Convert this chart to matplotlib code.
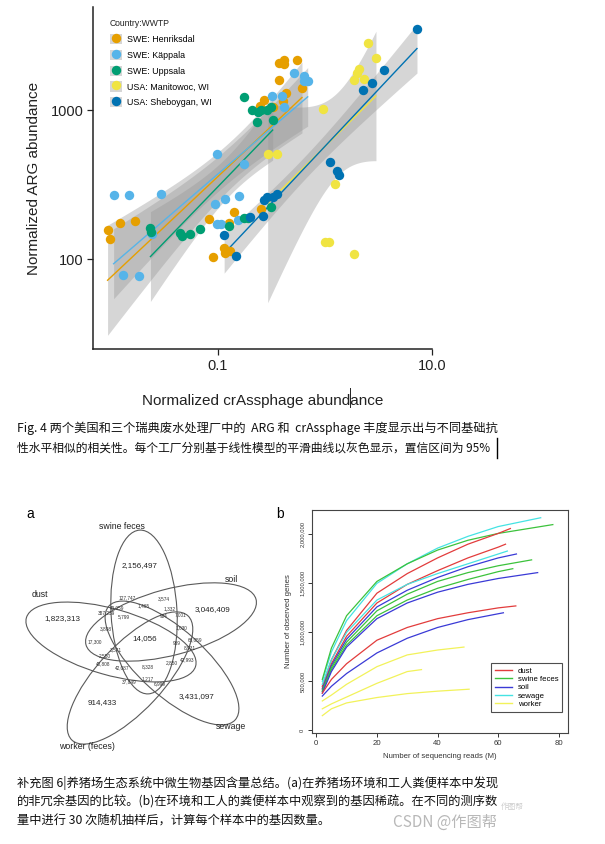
import numpy as np
import matplotlib
matplotlib.use('Agg')
import matplotlib.pyplot as plt
from matplotlib.patches import Ellipse, Rectangle
from matplotlib.lines import Line2D

W, H = 605, 844
LATIN = ['Liberation Sans', 'DejaVu Sans']
CJK = ['Noto Sans CJK SC', 'DejaVu Sans']

def fx(px):
    return px / W

def fy(py):
    return 1 - py / H

# ---------------- Fig. 4 : crAssphage vs ARG abundance ----------------
wwtp_names = ['SWE: Henriksdal', 'SWE: Käppala', 'SWE: Uppsala',
              'USA: Manitowoc, WI', 'USA: Sheboygan, WI']
wwtp_colors = ['#E69F00', '#56B4E9', '#009E73', '#F0E442', '#0072B2']

henriksdal_x = [0.0094, 0.0098, 0.0124, 0.0171, 0.0824, 0.0898, 0.115, 0.118, 0.131,
                0.128, 0.141, 0.254, 0.247, 0.268, 0.328, 0.373, 0.413, 0.419, 0.550,
                0.373, 0.612, 0.438, 0.407]
henriksdal_y = [157, 136, 174, 181, 186, 104, 119, 110, 114, 176, 207, 217, 1063, 1167,
                1042, 2084, 2162, 2032, 2183, 1588, 1418, 1294, 1155]
kappala_x = [0.0107, 0.0148, 0.0298, 0.0130, 0.0185, 0.0244, 0.0993, 0.175, 0.0951,
             0.118, 0.158, 0.0986, 0.107, 0.154, 0.321, 0.398, 0.413, 0.512, 0.634,
             0.644, 0.692]
kappala_y = [270, 270, 272, 78, 77, 147, 508, 434, 235, 254, 266, 171, 171, 183, 1247,
             1247, 1042, 1778, 1692, 1570, 1563]
uppsala_x = [0.0236, 0.0239, 0.0449, 0.0465, 0.0556, 0.0679, 0.128, 0.175, 0.191, 0.175,
             0.209, 0.236, 0.254, 0.233, 0.288, 0.315, 0.326, 0.315]
uppsala_y = [163, 153, 149, 143, 147, 159, 168, 188, 188, 1228, 1000, 965, 1000, 835,
             1000, 1052, 858, 225]
manitowoc_x = [0.962, 0.293, 0.358, 1.25, 1.01, 1.09, 1.86, 2.53, 3.00, 1.86, 2.10, 2.00, 2.34]
manitowoc_y = [1010, 507, 510, 318, 130, 131, 109, 2823, 2240, 1588, 1901, 1762, 1630]
sheboygan_x = [7.24, 3.54, 2.75, 2.27, 1.11, 1.30, 1.37, 0.358, 0.328, 0.288, 0.272,
               0.263, 0.199, 0.115, 0.148]
sheboygan_y = [3508, 1872, 1509, 1375, 447, 393, 367, 274, 260, 260, 250, 195, 191, 146, 105]

wwtp_x = [henriksdal_x, kappala_x, uppsala_x, manitowoc_x, sheboygan_x]
wwtp_y = [henriksdal_y, kappala_y, uppsala_y, manitowoc_y, sheboygan_y]

# ---------------- Suppl. Fig 6a : Venn counts ----------------
venn_sets = ['swine feces', 'soil', 'sewage', 'worker (feces)', 'dust']
venn_unique = [2156497, 3046409, 3431097, 914433, 1823313]
venn_core = 14056
venn_small = [127747, 3574, 1465, 40059, 387239, 1332, 5799, 904, 7001, 3898, 1030,
              17300, 969, 66059, 3571, 8931, 2550, 40808, 42087, 8328, 2850, 42993,
              1217, 37849, 6999]

# ---------------- Suppl. Fig 6b : rarefaction curves ----------------
rare_groups = ['dust', 'swine feces', 'soil', 'sewage', 'worker']
rare_colors = ['#e23c3c', '#3cc23c', '#3a3ad6', '#45e3e3', '#f2f25a']
curve_group = ['sewage', 'swine feces', 'dust', 'dust', 'sewage', 'soil', 'swine feces',
               'swine feces', 'soil', 'dust', 'soil', 'worker', 'worker', 'worker']
curve_x = [
    [2, 5, 10, 20, 30, 40, 50, 60, 74],
    [2, 5, 10, 20, 30, 40, 50, 60, 70, 78],
    [2, 5, 10, 20, 30, 40, 50, 60, 64],
    [2, 5, 10, 20, 30, 40, 50, 60, 62.4],
    [2, 5, 10, 20, 30, 40, 50, 60, 63],
    [2, 5, 10, 20, 30, 40, 50, 60, 66],
    [2, 5, 10, 20, 30, 40, 50, 60, 71],
    [2, 5, 10, 20, 30, 40, 50, 60, 64.8],
    [2, 5, 10, 20, 30, 40, 50, 60, 73],
    [2, 5, 10, 20, 30, 40, 50, 60, 65.8],
    [2, 5, 10, 20, 30, 40, 50, 60, 61.7],
    [2, 5, 10, 20, 30, 40, 48.7],
    [2, 5, 10, 20, 30, 34.7],
    [2, 5, 10, 20, 30, 40, 50.4],
]
curve_y = [  # millions of genes
    [0.50, 0.80, 1.12, 1.50, 1.70, 1.86, 1.98, 2.08, 2.17],
    [0.52, 0.84, 1.17, 1.52, 1.70, 1.84, 1.94, 2.01, 2.06, 2.10],
    [0.45, 0.72, 1.02, 1.40, 1.60, 1.76, 1.90, 2.01, 2.06],
    [0.43, 0.68, 0.96, 1.30, 1.49, 1.63, 1.76, 1.87, 1.90],
    [0.47, 0.72, 1.00, 1.33, 1.49, 1.60, 1.70, 1.80, 1.83],
    [0.42, 0.66, 0.93, 1.26, 1.43, 1.56, 1.67, 1.76, 1.80],
    [0.40, 0.64, 0.90, 1.22, 1.39, 1.52, 1.61, 1.68, 1.74],
    [0.40, 0.62, 0.87, 1.17, 1.33, 1.45, 1.54, 1.62, 1.65],
    [0.38, 0.60, 0.85, 1.14, 1.30, 1.41, 1.49, 1.55, 1.61],
    [0.38, 0.52, 0.68, 0.92, 1.05, 1.14, 1.20, 1.25, 1.27],
    [0.35, 0.45, 0.58, 0.79, 0.94, 1.05, 1.13, 1.19, 1.20],
    [0.30, 0.36, 0.47, 0.65, 0.77, 0.82, 0.85],
    [0.22, 0.27, 0.34, 0.48, 0.60, 0.62],
    [0.15, 0.22, 0.28, 0.335, 0.375, 0.40, 0.42],
]

caption1 = ['Fig. 4 两个美国和三个瑞典废水处理厂中的  ARG 和  crAssphage 丰度显示出与不同基础抗',
            '性水平相似的相关性。每个工厂分别基于线性模型的平滑曲线以灰色显示，置信区间为 95%']
caption2 = ['补充图 6|养猪场生态系统中微生物基因含量总结。(a)在养猪场环境和工人粪便样本中发现',
            '的非冗余基因的比较。(b)在环境和工人的粪便样本中观察到的基因稀疏。在不同的测序数',
            '量中进行 30 次随机抽样后，计算每个样本中的基因数量。']

plt.rcParams['font.family'] = LATIN
fig = plt.figure(figsize=(W / 100, H / 100), dpi=100)
fig.patch.set_facecolor('white')

# ===== top scatter with linear fits =====
ax = fig.add_axes([fx(93), fy(349), fx(432) - fx(93), fy(7) - fy(349)])
ax.set_xscale('log')
ax.set_yscale('log')
t95 = 2.1  # approx t quantile for n~15-23
handles = []
for name, col, xs, ys in zip(wwtp_names, wwtp_colors, wwtp_x, wwtp_y):
    lx = np.log10(xs)
    ly = np.log10(ys)
    b, a = np.polyfit(lx, ly, 1)
    n = len(lx)
    resid = ly - (a + b * lx)
    s = np.sqrt(np.sum(resid ** 2) / (n - 2))
    sxx = np.sum((lx - lx.mean()) ** 2)
    gx = np.linspace(lx.min(), lx.max(), 100)
    fit = a + b * gx
    se = s * np.sqrt(1 / n + (gx - lx.mean()) ** 2 / sxx)
    ax.fill_between(10 ** gx, 10 ** (fit - t95 * se), 10 ** (fit + t95 * se),
                    color='#999999', alpha=0.4, lw=0, zorder=2)
    ax.plot(10 ** gx, 10 ** fit, color=col, lw=1.0, zorder=3)
    ax.scatter(xs, ys, s=46, color=col, lw=0, zorder=4)
    handles.append((Rectangle((0, 0), 1, 1, fc='#d6d6d6', ec='none'),
                    Line2D([], [], ls='none', marker='o', ms=6.8, mfc=col, mec='none')))

ax.set_xlim(10 ** -2.163, 10 ** 1.0)
ax.set_ylim(10 ** 1.397, 10 ** 3.692)
ax.set_xticks([0.1, 10])
ax.set_xticklabels(['0.1', '10.0'])
ax.set_yticks([100, 1000])
ax.set_yticklabels(['100', '1000'])
ax.minorticks_off()
ax.tick_params(labelsize=10.5, length=4, width=0.9, colors='#222222', pad=3)
for sp in ['top', 'right']:
    ax.spines[sp].set_visible(False)
for sp in ['left', 'bottom']:
    ax.spines[sp].set_linewidth(1.1)
    ax.spines[sp].set_color('#222222')
ax.set_xlabel('Normalized crAssphage abundance', fontsize=11, labelpad=15, color='#222222')
ax.set_ylabel('Normalized ARG abundance', fontsize=11, labelpad=7, color='#222222')
ax.legend(handles, wwtp_names, loc='upper left',
          bbox_to_anchor=((110 - 93) / (432 - 93), (349 - 34) / 342),
          frameon=False, fontsize=6.4, handlelength=1.4, handleheight=1.4,
          handletextpad=0.5, labelspacing=0.62, borderpad=0, borderaxespad=0)
fig.text(fx(110), fy(23), 'Country:WWTP', fontsize=6.2, ha='left', va='center',
         color='#222222')

# text cursor marks in the screenshot
fig.add_artist(Line2D([fx(350), fx(350)], [fy(388), fy(407)], color='#222222', lw=0.7))
fig.add_artist(Line2D([fx(497), fx(497)], [fy(438), fy(458)], color='black', lw=1.0))

cap1_sizes = [8.8, 8.5]
for i, line in enumerate(caption1):
    fig.text(fx(17), fy(428 + 20 * i), line, fontsize=cap1_sizes[i], family=CJK,
             va='center', ha='left', color='#111111')

# ===== panel a : five-set Venn =====
av = fig.add_axes([0, fy(760), fx(275), fy(500) - fy(760)])
av.set_xlim(0, 275)
av.set_ylim(760, 500)
av.axis('off')
ell_geom = [(144, 612, 164, 66, 87), (171, 622, 176, 66, -15), (172, 663, 170, 66, 42),
            (130, 678, 170, 66, -47), (111, 642, 176, 66, 16)]
for cx, cy, w1, h1, ang in ell_geom:
    av.add_patch(Ellipse((cx, cy), w1, h1, angle=ang, fill=False, ec='#5a5a5a', lw=0.8))
name_pos = [(122, 527), (231, 580), (231, 727), (87, 747), (40, 595)]
uniq_pos = [(140, 566), (213, 610), (197, 697), (102, 703), (62, 619)]
for s, v, p, q in zip(venn_sets, venn_unique, name_pos, uniq_pos):
    av.text(p[0], p[1], s, fontsize=6.3, ha='center', va='center', color='#222222')
    av.text(q[0], q[1], f'{v:,}', fontsize=5.8, ha='center', va='center', color='#222222')
av.text(145, 639, f'{venn_core:,}', fontsize=5.8, ha='center', va='center', color='#222222')
small_pos = [(127, 598), (164, 599), (144, 606), (117, 608), (106, 613), (170, 609),
             (124, 617), (164, 617), (181, 615), (106, 629), (181, 628), (95, 642),
             (177, 644), (195, 640), (116, 650), (190, 648), (105, 656), (103, 664),
             (122, 668), (148, 667), (172, 663), (187, 660), (148, 679), (129, 682),
             (160, 684)]
for v, p in zip(venn_small, small_pos):
    av.text(p[0], p[1], f'{v:,}', fontsize=3.4, ha='center', va='center', color='#333333')
fig.text(fx(30), fy(514), 'a', fontsize=10, ha='center', va='center')

# ===== panel b : rarefaction =====
ab = fig.add_axes([fx(312), fy(733), fx(568) - fx(312), fy(510) - fy(733)])
col_of = dict(zip(rare_groups, rare_colors))
for g, xs, ys in zip(curve_group, curve_x, curve_y):
    ab.plot(xs, np.array(ys) * 1e6, color=col_of[g], lw=0.9)
ab.set_xlim(-1.4, 83)
ab.set_ylim(-27000, 2249000)
ab.set_xticks([0, 20, 40, 60, 80])
ab.set_yticks([0, 500000, 1000000, 1500000, 2000000])
ab.set_yticklabels(['0', '500,000', '1,000,000', '1,500,000', '2,000,000'],
                   rotation=90, va='center')
ab.tick_params(labelsize=5.6, length=3, width=0.7, colors='#333333', pad=2)
ab.tick_params(axis='y', labelsize=4.2)
for sp in ab.spines.values():
    sp.set_linewidth(0.8)
    sp.set_color('#444444')
ab.set_xlabel('Number of sequencing reads (M)', fontsize=5.6, labelpad=4, color='#333333')
ab.set_ylabel('Number of observed genes', fontsize=5.6, labelpad=6, color='#333333')
lh = [Line2D([], [], color=c, lw=1.0) for c in rare_colors]
lb = ab.legend(lh, rare_groups, loc='lower right', bbox_to_anchor=(0.977, 0.094),
               fontsize=5.6, handlelength=2.2, labelspacing=0.12, borderpad=0.5,
               handletextpad=0.7, fancybox=False, borderaxespad=0)
lb.get_frame().set_edgecolor('#222222')
lb.get_frame().set_linewidth(0.8)
fig.text(fx(280), fy(514), 'b', fontsize=10, ha='center', va='center')

for i, line in enumerate(caption2):
    fig.text(fx(17), fy(783 + 19 * i), line, fontsize=8.8, family=CJK,
             va='center', ha='left', color='#111111')

# watermark
fig.text(fx(393), fy(822), 'CSDN @作图帮', fontsize=11, family=CJK, color='#b8b8b8',
         va='center', ha='left')
fig.text(fx(501), fy(807), '作图帮', fontsize=5.5, family=CJK, color='#cccccc',
         va='center', ha='left')

fig.savefig('out.png', dpi=100)
